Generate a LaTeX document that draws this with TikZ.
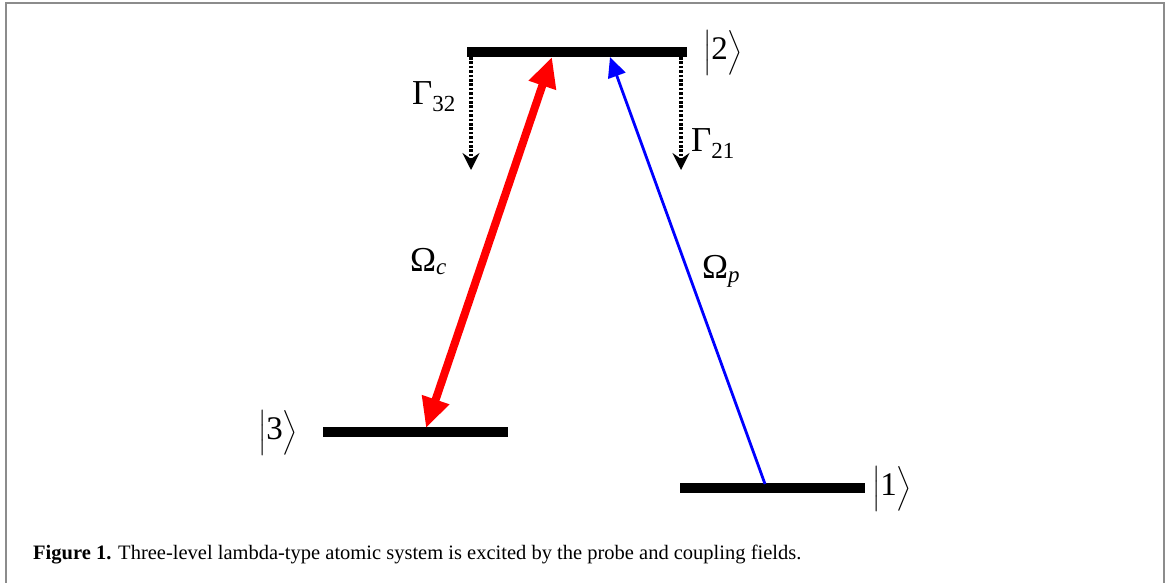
\documentclass[tikz,border=0pt]{standalone}
\usepackage{amsmath}
\usepackage{fontspec}
\setmainfont{Liberation Serif}
\usetikzlibrary{arrows.meta}
\tikzset{
  level/.style={line width=10pt, black},
  ket/.style={font=\fontsize{33}{40}\selectfont, inner sep=0pt},
  lbl/.style={inner sep=0pt, anchor=base west},
  decay/.style={line width=3.4pt, dash pattern=on 2.6pt off 1.8pt, -{Stealth[length=17pt,width=17pt,inset=6pt]}},
  coupling/.style={line width=8pt, red, {Triangle[length=30pt,width=27pt]}-{Triangle[length=30pt,width=27pt]}},
  probe/.style={line width=2.8pt, blue, -{Triangle[length=20pt,width=18pt]}},
  frame/.style={line width=2pt, black!45}
}
\newcommand{\bigsym}[1]{{\fontsize{35}{35}\selectfont #1}}
\newcommand{\smallsub}[1]{{\fontsize{23}{23}\selectfont #1}}
\begin{document}
\begin{tikzpicture}[x=1pt,y=-1pt]
\useasboundingbox (0,0) rectangle (1168,582);
\draw[frame] (6,585) -- (6,3) -- (1164,3) -- (1164,585);
% levels
\draw[level] (467,52) coordinate (l2w) -- (687,52) coordinate (l2e);
\draw[level] (323,431.5) coordinate (l3w) -- (508,431.5) coordinate (l3e);
\draw[level] (680,488) coordinate (l1w) -- (865,488) coordinate (l1e);
% kets
\node[ket] (k2) at (723,53) {$\Bigl|\text{2}\Bigr\rangle$};
\node[ket] (k3) at (278,433) {$\Bigl|\text{3}\Bigr\rangle$};
\node[ket] (k1) at (892,489) {$\Bigl|\text{1}\Bigr\rangle$};
% decay arrows
\coordinate (d1s) at (471,57); \coordinate (d1e) at (471,170);
\coordinate (d2s) at (681,57); \coordinate (d2e) at (681,170);
\draw[decay] (d1s) -- (d1e);
\draw[decay] (d2s) -- (d2e);
% fields
\coordinate (c3) at (426,428); \coordinate (c2) at (552,57);
\coordinate (p1) at (765,484); \coordinate (p2) at (610,57);
\draw[coupling] (c3) -- (c2);
\draw[probe] (p1) -- (p2);
% labels
\node[lbl] (g32) at (412,104) {\bigsym{Γ}\raisebox{-7pt}{\smallsub{32}}};
\node[lbl] (g21) at (691,151) {\bigsym{Γ}\raisebox{-7pt}{\smallsub{21}}};
\node[lbl] (oc) at (410,271) {\bigsym{Ω}\raisebox{-3pt}{\smallsub{\itshape c}}};
\node[lbl] (op) at (702,278) {\bigsym{Ω}\raisebox{-4pt}{\smallsub{\itshape p}}};
% caption
\node[lbl, font=\fontsize{20.5}{24}\selectfont] (cap) at (33,559) {\textbf{Figure 1.} Three-level lambda-type atomic system is excited by the probe and coupling fields.};
\end{tikzpicture}
\end{document}
